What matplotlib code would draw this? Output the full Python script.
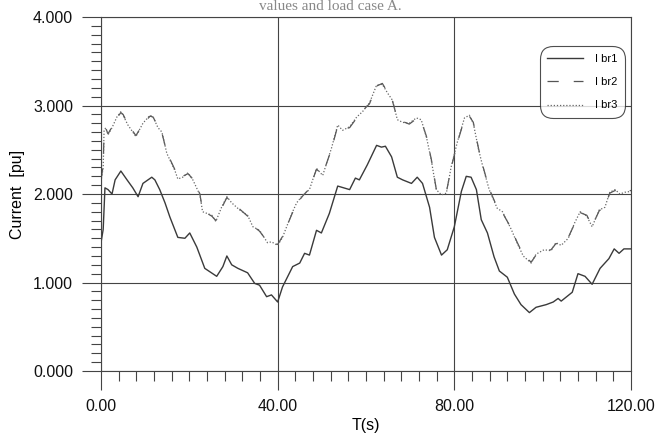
import matplotlib.pyplot as plt
from matplotlib.ticker import MultipleLocator, FormatStrFormatter

# branch currents
t_br1 = [0.0, 0.5, 0.9, 1.6, 2.5, 3.2, 4.5, 5.9, 7.2, 8.4, 9.5, 11.5, 12.2, 13.3,
         14.5, 15.6, 17.4, 19.0, 20.1, 21.7, 23.5, 25.3, 26.2, 27.6, 28.5, 29.6,
         31.0, 33.2, 34.8, 35.9, 37.5, 38.6, 40.0, 41.1, 43.4, 45.0, 46.1, 47.2,
         48.8, 49.9, 51.7, 53.6, 56.3, 57.6, 58.5, 60.3, 62.4, 63.5, 64.4, 65.8,
         67.1, 68.3, 70.3, 71.6, 72.8, 74.4, 75.5, 77.1, 78.4, 80.0, 81.6, 82.7,
         83.8, 85.0, 86.1, 87.5, 89.0, 90.2, 92.0, 93.6, 95.1, 97.0, 98.5, 100.8,
         102.4, 103.5, 104.2, 106.7, 108.0, 109.6, 111.2, 113.0, 115.0, 116.2,
         117.3, 118.4, 120.0]
i_br1 = [1.45, 1.60, 2.07, 2.05, 2.00, 2.16, 2.26, 2.16, 2.07, 1.97, 2.12, 2.19, 2.16, 2.05,
         1.90, 1.74, 1.51, 1.50, 1.56, 1.40, 1.16, 1.10, 1.07, 1.18, 1.30, 1.20,
         1.16, 1.11, 0.99, 0.97, 0.84, 0.86, 0.78, 0.95, 1.18, 1.22, 1.33, 1.31,
         1.59, 1.56, 1.78, 2.09, 2.05, 2.18, 2.16, 2.33, 2.55, 2.53, 2.54, 2.42,
         2.19, 2.16, 2.12, 2.19, 2.12, 1.85, 1.51, 1.31, 1.37, 1.63, 2.03, 2.20,
         2.19, 2.05, 1.71, 1.56, 1.29, 1.13, 1.06, 0.87, 0.75, 0.66, 0.72, 0.75,
         0.78, 0.82, 0.79, 0.89, 1.10, 1.07, 0.98, 1.16, 1.27, 1.38,
         1.33, 1.38, 1.38]

t_br23 = [0.0, 0.5, 0.7, 1.1, 1.6, 2.5, 3.6, 4.5, 5.0, 6.1, 7.9, 9.5, 11.1, 11.8,
          12.9, 13.8, 14.9, 16.7, 17.4, 18.5, 19.7, 20.8, 22.4, 23.0, 25.1, 26.0,
          27.3, 28.5, 29.6, 31.4, 33.2, 34.4, 35.9, 37.7, 38.6, 40.0, 41.1, 43.2,
          44.3, 45.7, 47.2, 48.8, 50.2, 52.2, 53.6, 54.7, 56.3, 57.9, 59.2, 60.8,
          62.4, 63.7, 64.9, 66.0, 67.1, 68.3, 69.8, 71.4, 72.5, 73.7, 74.8, 75.9,
          77.1, 78.2, 79.3, 80.7, 82.3, 83.4, 84.3, 85.5, 86.5, 87.9, 89.7, 90.9,
          92.9, 94.0, 95.6, 97.4, 98.5, 100.3, 101.9, 103.0, 104.2, 105.8, 107.3,
          108.5, 110.0, 111.2, 112.8, 114.1, 115.2, 116.4, 117.5, 118.6, 120.0]
i_br2 = [2.16, 2.32, 2.70, 2.74, 2.68, 2.76, 2.86, 2.92, 2.90, 2.79, 2.66, 2.79, 2.88, 2.87,
         2.76, 2.69, 2.47, 2.28, 2.18, 2.20, 2.23, 2.17, 2.00, 1.81, 1.75, 1.70,
         1.84, 1.96, 1.91, 1.83, 1.75, 1.64, 1.58, 1.46, 1.45, 1.43, 1.52, 1.77,
         1.89, 1.98, 2.06, 2.28, 2.22, 2.51, 2.77, 2.73, 2.75, 2.86, 2.94, 3.02,
         3.22, 3.25, 3.15, 3.05, 2.85, 2.82, 2.79, 2.85, 2.83, 2.65, 2.39, 2.06,
         2.00, 2.02, 2.30, 2.58, 2.85, 2.88, 2.81, 2.51, 2.31, 2.06, 1.85, 1.79,
         1.61, 1.48, 1.31, 1.23, 1.31, 1.36, 1.37, 1.44, 1.43, 1.51, 1.67,
         1.79, 1.76, 1.64, 1.81, 1.86, 2.01, 2.04, 2.01, 2.03, 2.04]
i_br3 = [2.14, 2.30, 2.72, 2.75, 2.67, 2.75, 2.87, 2.93, 2.89, 2.78, 2.65, 2.80, 2.89, 2.87,
         2.75, 2.70, 2.46, 2.27, 2.17, 2.19, 2.24, 2.16, 1.99, 1.80, 1.76, 1.69,
         1.85, 1.97, 1.90, 1.82, 1.76, 1.63, 1.59, 1.45, 1.46, 1.42, 1.51, 1.78,
         1.90, 1.99, 2.05, 2.29, 2.21, 2.52, 2.78, 2.72, 2.76, 2.87, 2.93, 3.03,
         3.23, 3.24, 3.14, 3.06, 2.84, 2.81, 2.80, 2.86, 2.84, 2.64, 2.38, 2.05,
         1.99, 2.01, 2.31, 2.59, 2.86, 2.89, 2.80, 2.50, 2.30, 2.05, 1.84, 1.80,
         1.60, 1.47, 1.30, 1.22, 1.32, 1.37, 1.36, 1.45, 1.42, 1.50, 1.68,
         1.80, 1.75, 1.63, 1.82, 1.85, 2.02, 2.05, 2.00, 2.02, 2.03]

INK = "#444444"

plt.rcParams["font.family"] = ["Liberation Sans", "DejaVu Sans"]

fig = plt.figure(figsize=(6.57, 4.37), dpi=100)
ax = fig.add_axes([0.1537, 0.151, 0.8067, 0.810])

ax.plot(t_br1, i_br1, color="#3a3a3a", lw=1.0, label="I br1")
ax.plot(t_br23, i_br2, color="#555555", lw=0.9, dashes=(9, 12), label="I br2")
ax.plot(t_br23, i_br3, color="#666666", lw=0.9, dashes=(1, 1.5), label="I br3")

ax.set_xlim(0, 120)
ax.set_ylim(0, 4)
ax.xaxis.set_major_locator(MultipleLocator(40))
ax.xaxis.set_minor_locator(MultipleLocator(4))
ax.yaxis.set_major_locator(MultipleLocator(1))
ax.yaxis.set_minor_locator(MultipleLocator(0.1))
ax.xaxis.set_major_formatter(FormatStrFormatter("%.2f"))
ax.yaxis.set_major_formatter(FormatStrFormatter("%.3f"))

ax.grid(True, which="major", color=INK, lw=0.8)
for s in ax.spines.values():
    s.set_color(INK)
    s.set_linewidth(0.8)
ax.tick_params(which="major", length=14, width=0.8, color=INK, labelsize=11.5,
               labelcolor="#111111", pad=6)
ax.tick_params(which="minor", length=7.5, width=0.8, color=INK)

ax.set_xlabel("T(s)", fontsize=11.5, labelpad=3)
ax.set_ylabel("Current  [pu]", fontsize=11.5, labelpad=6)

leg = ax.legend(loc="upper right", bbox_to_anchor=(0.985, 0.912), fontsize=8,
                frameon=True, fancybox=True, edgecolor="#222222", handlelength=3.2,
                borderpad=0.5, labelspacing=1.2, handletextpad=1.1,
                borderaxespad=0.0)
leg.get_frame().set_linewidth(0.8)
leg.get_frame().set_boxstyle("round", pad=0.2, rounding_size=1.2)

fig.text(0.502, 0.999, "values and load case A.", ha="center", va="top",
         fontsize=11, family="Liberation Serif", color="#888888")

fig.savefig("out.png", dpi=100)
